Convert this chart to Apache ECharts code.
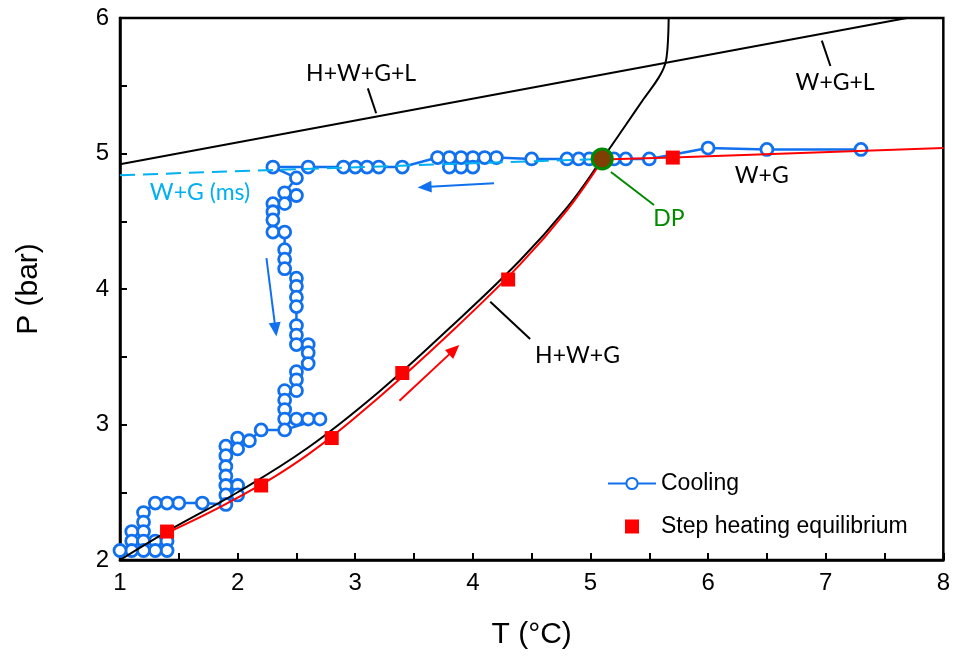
<!DOCTYPE html>
<html>
<head>
<meta charset="utf-8">
<script src="https://cdn.jsdelivr.net/npm/echarts@6/dist/echarts.min.js"></script>
<style>
  html, body { margin: 0; padding: 0; background: #fff; }
  #chart { width: 953px; height: 661px; }
</style>
</head>
<body>
<div id="chart"></div>
<script>
// cooling run, in measurement order (high T -> low T)
const coolT = [7.3, 6.5, 6.0, 5.5, 5.3, 5.2, 5.1, 4.99, 4.9, 4.8, 4.5, 4.2, 4.1, 4.0, 4.0, 3.9, 3.8, 3.9, 3.8, 3.7,
  3.4, 3.2, 3.1, 3.0, 2.9, 2.6, 2.3, 2.5, 2.4, 2.5, 2.4, 2.3, 2.3, 2.3, 2.3, 2.4, 2.4, 2.4, 2.4,
  2.5, 2.5, 2.5, 2.5, 2.5, 2.5, 2.5, 2.6, 2.6, 2.6, 2.5, 2.5, 2.5, 2.4, 2.4, 2.4, 2.4, 2.5, 2.6, 2.7,
  2.4, 2.2, 2.1, 2.0, 2.0, 1.9, 1.9, 1.9, 1.9, 2.0, 1.9, 2.0, 1.9, 1.9, 1.7, 1.5, 1.4, 1.3,
  1.2, 1.2, 1.2, 1.1, 1.1, 1.2, 1.3, 1.4, 1.4, 1.3, 1.2, 1.1, 1.0];
const coolP = [5.03, 5.03, 5.04, 4.96, 4.96, 4.96, 4.96, 4.96, 4.96, 4.96, 4.96, 4.97, 4.97, 4.97, 4.90, 4.90, 4.90, 4.97, 4.97, 4.97,
  4.90, 4.90, 4.90, 4.90, 4.90, 4.90, 4.90, 4.82, 4.71, 4.69, 4.63, 4.63, 4.57, 4.51, 4.42, 4.42, 4.29, 4.22, 4.15,
  4.08, 4.02, 3.94, 3.87, 3.73, 3.66, 3.59, 3.59, 3.53, 3.45, 3.39, 3.33, 3.25, 3.25, 3.18, 3.11, 3.04, 3.04, 3.04, 3.04,
  2.96, 2.96, 2.88, 2.90, 2.82, 2.84, 2.77, 2.69, 2.62, 2.55, 2.55, 2.48, 2.48, 2.41, 2.42, 2.42, 2.42, 2.42,
  2.35, 2.28, 2.21, 2.21, 2.14, 2.14, 2.14, 2.14, 2.07, 2.07, 2.07, 2.07, 2.07];

// step heating equilibrium points
const stepT = [1.4, 2.2, 2.8, 3.4, 4.3, 5.7];
const stepP = [2.21, 2.55, 2.90, 3.38, 4.07, 4.97];

// red heating path (curve up to DP, then straight)
const heatCurveT = [1.4, 2.0, 2.6, 3.2, 3.8, 4.4, 4.8, 5.1];
const heatCurveP = [2.20, 2.46, 2.78, 3.20, 3.67, 4.18, 4.58, 4.95];
const heatLineT = [5.1, 5.7, 8.0];
const heatLineP = [4.955, 4.97, 5.04];

// H+W+G equilibrium curve
const hwgT = [1.0, 1.4, 2.0, 2.6, 3.2, 3.8, 4.4, 4.8, 5.1, 5.3, 5.45, 5.58, 5.635, 5.655, 5.665];
const hwgP = [2.0, 2.21, 2.50, 2.83, 3.24, 3.71, 4.21, 4.60, 4.96, 5.21, 5.40, 5.56, 5.66, 5.78, 6.0];

// H+W+G+L boundary and W+G (ms) line
const hwglT = [1.0, 7.69];
const hwglP = [4.92, 6.0];
const msT = [1.0, 5.1];
const msP = [4.84, 4.96];

const dpT = [5.1];
const dpP = [4.96];

const xTicks = [1, 8, 1];
const yTicks = [2, 6, 1];

const pairs = (xs, ys) => xs.map((x, i) => [x, ys[i]]);

const blue = '#1170EE';
const cyan = '#00B0F0';
const axisFont = 'Liberation Sans, Arial, sans-serif';
const noteFont = 'Lato, Calibri, sans-serif';

const option = {
  animation: false,
  grid: { left: 120, right: 8, top: 18, bottom: 101, show: true, borderColor: '#000', borderWidth: 2.5 },
  legend: {
    orient: 'vertical', left: 602, top: 467, itemWidth: 48, itemHeight: 14, itemGap: 20,
    textStyle: { fontFamily: axisFont, fontSize: 23, color: '#000' },
    data: [
      { name: 'Cooling' },
      { name: 'Step heating equilibrium', icon: 'path://M0,0L48,0M17,0L31,0L31,14L17,14Z' }
    ]
  },
  xAxis: {
    type: 'value', min: xTicks[0], max: xTicks[1], interval: xTicks[2],
    name: 'T (°C)', nameLocation: 'middle', nameGap: 60,
    nameTextStyle: { fontFamily: axisFont, fontSize: 30, color: '#000' },
    axisLine: { lineStyle: { color: '#000', width: 2.5 } },
    axisTick: { inside: true, length: 7, lineStyle: { color: '#000', width: 2 } },
    minorTick: { show: true, splitNumber: 2, length: 7, lineStyle: { color: '#000', width: 2 } },
    axisLabel: { fontFamily: axisFont, fontSize: 24, color: '#000', margin: 11 },
    splitLine: { show: false }
  },
  yAxis: {
    type: 'value', min: yTicks[0], max: yTicks[1], interval: yTicks[2],
    name: 'P (bar)', nameLocation: 'middle', nameGap: 76,
    nameTextStyle: { fontFamily: axisFont, fontSize: 30, color: '#000' },
    axisLine: { lineStyle: { color: '#000', width: 2.5 } },
    axisTick: { inside: true, length: 7, lineStyle: { color: '#000', width: 2 } },
    minorTick: { show: true, splitNumber: 2, length: 7, lineStyle: { color: '#000', width: 2 } },
    axisLabel: { fontFamily: axisFont, fontSize: 24, color: '#000', margin: 11 },
    splitLine: { show: false }
  },
  series: [
    {
      name: 'Cooling', type: 'line', data: pairs(coolT, coolP), z: 2,
      symbol: 'circle', symbolSize: 12, showAllSymbol: true,
      lineStyle: { color: blue, width: 2.5 },
      itemStyle: { color: '#fff', borderColor: blue, borderWidth: 2.8 }
    },
    {
      name: 'ms', type: 'line', data: pairs(msT, msP), z: 3, symbol: 'none',
      lineStyle: { color: cyan, width: 2, type: [15, 8] }
    },
    {
      name: 'hwgl', type: 'line', data: pairs(hwglT, hwglP), z: 3, symbol: 'none',
      lineStyle: { color: '#000', width: 2 }
    },
    {
      name: 'hwg', type: 'line', data: pairs(hwgT, hwgP), z: 3, symbol: 'none', smooth: 0.4,
      lineStyle: { color: '#000', width: 2 }
    },
    {
      name: 'heatCurve', type: 'line', data: pairs(heatCurveT, heatCurveP), z: 4, symbol: 'none', smooth: 0.4,
      lineStyle: { color: '#FF0000', width: 2 }
    },
    {
      name: 'heatLine', type: 'line', data: pairs(heatLineT, heatLineP), z: 4, symbol: 'none',
      lineStyle: { color: '#FF0000', width: 2 }
    },
    {
      name: 'Step heating equilibrium', type: 'scatter', data: pairs(stepT, stepP), z: 5,
      symbol: 'rect', symbolSize: 14, itemStyle: { color: '#FF0000', opacity: 1 }
    },
    {
      name: 'DP', type: 'scatter', data: pairs(dpT, dpP), z: 6,
      symbol: 'circle', symbolSize: 20,
      itemStyle: { color: '#7F3F00', borderColor: '#008A00', borderWidth: 3, opacity: 1 }
    }
  ]
};

const chart = echarts.init(document.getElementById('chart'));
chart.setOption(option);

// annotations placed in data units
const px = (t, p) => chart.convertToPixel({ gridIndex: 0 }, [t, p]);

function note(text, t, p, color) {
  const [x, y] = px(t, p);
  return {
    type: 'text', x: x, y: y, z: 10,
    style: { text: text, fill: color || '#000', font: '23px ' + noteFont, align: 'center', verticalAlign: 'middle' }
  };
}
function leader(t1, p1, t2, p2, color) {
  const a = px(t1, p1), b = px(t2, p2);
  return {
    type: 'line', z: 10,
    shape: { x1: a[0], y1: a[1], x2: b[0], y2: b[1] },
    style: { stroke: color || '#000', lineWidth: 2 }
  };
}
function arrow(t1, p1, t2, p2, color) {
  const a = px(t1, p1), b = px(t2, p2);
  const dx = b[0] - a[0], dy = b[1] - a[1];
  const len = Math.sqrt(dx * dx + dy * dy);
  const ux = dx / len, uy = dy / len;
  const hl = 14, hw = 6;
  const bx = b[0] - ux * hl, by = b[1] - uy * hl;
  return [
    {
      type: 'line', z: 10,
      shape: { x1: a[0], y1: a[1], x2: bx + ux * 2, y2: by + uy * 2 },
      style: { stroke: color, lineWidth: 2 }
    },
    {
      type: 'polygon', z: 10,
      shape: { points: [[b[0], b[1]], [bx - uy * hw, by + ux * hw], [bx + uy * hw, by - ux * hw]] },
      style: { fill: color }
    }
  ];
}

const graphics = [
  note('H+W+G+L', 3.05, 5.59),
  leader(3.107, 5.481, 3.178, 5.297),
  note('W+G+L', 7.08, 5.52),
  leader(6.967, 5.833, 7.04, 5.646),
  note('W+G', 6.456, 4.84),
  note('W+G (ms)', 1.68, 4.71, cyan),
  note('DP', 5.667, 4.52, '#008A00'),
  leader(5.174, 4.863, 5.54, 4.62, '#008A00'),
  note('H+W+G', 4.89, 3.51),
  leader(4.148, 3.906, 4.487, 3.631)
].concat(
  arrow(4.18, 4.78, 3.53, 4.75, blue),
  arrow(2.245, 4.227, 2.33, 3.65, blue),
  arrow(3.376, 3.176, 3.885, 3.587, '#FF0000')
);

chart.setOption({ graphic: graphics });
</script>
</body>
</html>
